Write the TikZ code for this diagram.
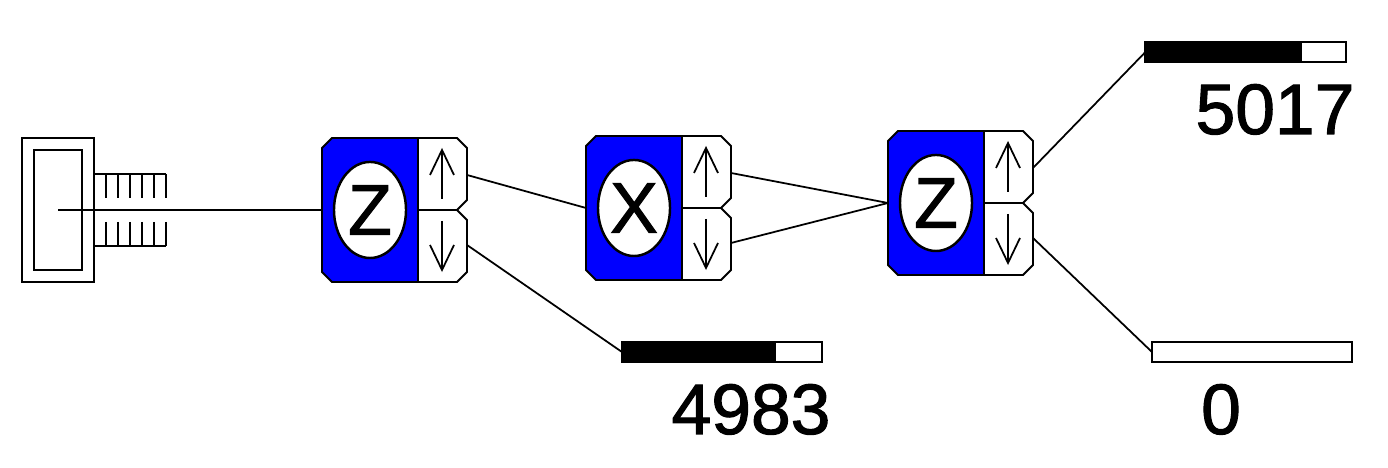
\documentclass[tikz,border=0pt]{standalone}
\usepackage{fontspec}
\setmainfont{Liberation Sans}
\newfontfamily\labelfont[FakeBold=1.5]{Liberation Sans}
\usetikzlibrary{shapes.geometric}
\definecolor{gateblue}{RGB}{0,0,255}
\tikzset{
    wire/.style={line width=0.5pt},
    keyline/.style={line width=0.55pt},
    readout/.style={font=\labelfont\fontsize{20.3}{21}\selectfont, inner sep=0pt, anchor=base},
    barbox/.style={draw, line width=0.55pt, minimum width=2cm, minimum height=0.2cm, inner sep=0pt, outer sep=0pt},
    axisoval/.style={ellipse, draw, fill=white, line width=0.7pt, minimum width=0.72cm, minimum height=0.96cm, inner sep=0pt, font=\labelfont\fontsize{20.3}{21}\selectfont},
    pics/gate/.style={code={
        \fill[gateblue] (0,-62) -- (10,-72) -- (96,-72) -- (96,72) -- (10,72) -- (0,62) -- cycle; % blue body
        \draw[keyline] (96,0) -- (96,-72) -- (10,-72) -- (0,-62) -- (0,62) -- (10,72) -- (96,72) -- (96,0) -- (135,0); % body outline
        \draw[keyline] (96,-72) -- (135,-72) -- (145,-62) -- (145,-10) -- (135,0) -- (145,10) -- (145,62) -- (135,72) -- (96,72); % ports
        \node[axisoval] (-oval) at (48,0) {#1};
        \draw[wire] (120,-11) -- (120,-60); % up arrow
        \draw[wire] (108,-35) -- (120,-60) -- (132,-35);
        \draw[wire] (120,11) -- (120,60); % down arrow
        \draw[wire] (108,35) -- (120,60) -- (132,35);
        \coordinate (-in) at (0,0);
        \coordinate (-up) at (145,-35);
        \coordinate (-down) at (145,35);
    }}
}
\begin{document}
\begin{tikzpicture}[x=0.01cm, y=-0.01cm]
\useasboundingbox (0,0) rectangle (1388,468);
% knob
\draw[keyline] (22,138) rectangle (94,282); % head outer
\draw[keyline] (34,150) rectangle (82,270); % head inner
\draw[keyline] (94,174) -- (166,174); % thread top
\draw[keyline] (94,246) -- (166,246); % thread bottom
\foreach \tx in {94,106,...,166} {
    \draw[keyline] (\tx,174) -- (\tx,198);
    \draw[keyline] (\tx,222) -- (\tx,246);
}
\coordinate (knob) at (58,210);
% gates
\pic (gateA) at (322,210) {gate=Z};
\pic (gateB) at (586,208) {gate=X};
\pic (gateC) at (888,203) {gate=Z};
% bars
\node[barbox] (barA) at (722,352) {};
\fill (barA.north west) rectangle (776,362);
\node[barbox] (barB) at (1245.5,52) {};
\fill (barB.north west) rectangle (1302,62);
\node[barbox] (barC) at (1252,352) {};
% counts
\node[readout] (countA) at (751,434) {4983};
\node[readout] (countB) at (1275,134) {5017};
\node[readout] (countC) at (1221,434) {0};
% connectors
\draw[wire] (knob) -- (gateA-in);
\draw[wire] (gateA-up) -- (gateB-in);
\draw[wire] (gateA-down) -- (barA.west);
\draw[wire] (gateB-up) -- (gateC-in);
\draw[wire] (gateB-down) -- (gateC-in);
\draw[wire] (gateC-up) -- (barB.west);
\draw[wire] (gateC-down) -- (barC.west);
\end{tikzpicture}
\end{document}
